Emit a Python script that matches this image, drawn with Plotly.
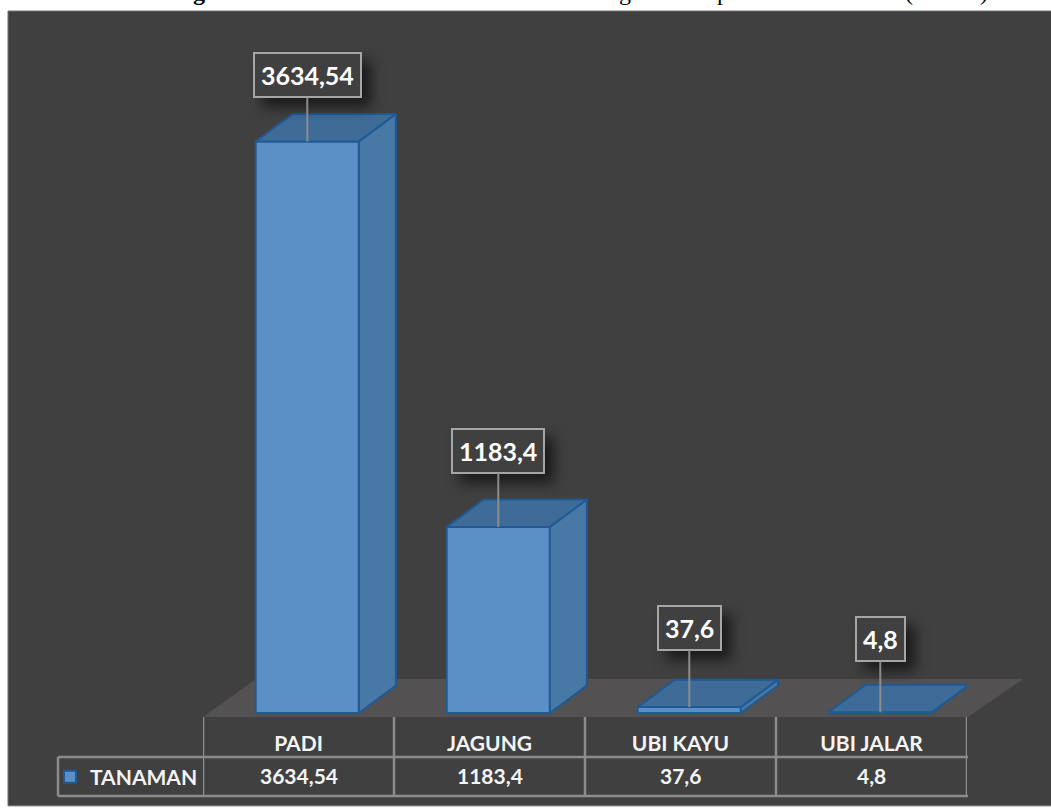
import plotly.graph_objects as go

categories = ["PADI", "JAGUNG", "UBI KAYU", "UBI JALAR"]
values = [3634.54, 1183.4, 37.6, 4.8]
value_labels = ["3634,54", "1183,4", "37,6", "4,8"]
series_name = "TANAMAN"

W, H = 1051, 808
ML, MR, MT, MB = 203, 84, 20, 90
PX_PER_CAT = (W - ML - MR) / 4
PX_PER_VAL = 0.1575
Y_LOW = -4 / PX_PER_VAL
Y_HIGH = (714 - MT) / PX_PER_VAL
DX = 37 / PX_PER_CAT      # oblique depth, category units
DY = 27.5 / PX_PER_VAL    # oblique depth, value units
SHIFT = 0.046
BAR_W = 0.54
LIFT = [-66, -76, -79, -73]

BG = "#404040"; FLOOR = "#535151"; FRONT = "#5a90c6"; SIDE = "#4878a6"
TOP = "#3e6b98"; EDGE = "#1f5a94"; GRID = "#8c8c8c"; TEXT = "#f4f4f4"
FONT = "Lato"


def px(x):
    return (x - ML) / (W - ML - MR)


def py(y):
    return (H - MB - y) / (H - MT - MB)


fig = go.Figure()
fig.add_bar(x=[i + SHIFT for i in range(4)], y=values, width=BAR_W, name=series_name,
            marker=dict(color=FRONT, line=dict(color=EDGE, width=2)), showlegend=True)

for i, v in enumerate(values):
    l = i + SHIFT - BAR_W / 2
    r = i + SHIFT + BAR_W / 2
    fig.add_scatter(x=[r, r + DX, r + DX, r, r], y=[0, DY, v + DY, v, 0], mode="lines", fill="toself",
                    fillcolor=SIDE, line=dict(color=EDGE, width=2), showlegend=False, hoverinfo="skip",
                    cliponaxis=False)
    fig.add_scatter(x=[l, r, r + DX, l + DX, l], y=[v, v, v + DY, v + DY, v], mode="lines", fill="toself",
                    fillcolor=TOP, line=dict(color=EDGE, width=2), showlegend=False, hoverinfo="skip",
                    cliponaxis=False)

shapes = [
    dict(type="rect", xref="paper", yref="paper", x0=px(8), x1=px(1052), y0=py(807), y1=py(11),
         fillcolor=BG, line=dict(color="#6e6e6e", width=1), layer="below"),
    dict(type="path", xref="paper", yref="paper", layer="below", fillcolor=FLOOR, line=dict(width=0),
         path=f"M {px(203)} {py(718)} L {px(968)} {py(718)} L {px(1023)} {py(680)} L {px(256)} {py(680)} Z"),
]
line = dict(color=GRID, width=2.5)
for e in [-0.5, 0.5, 1.5, 2.5, 3.5]:
    shapes.append(dict(type="line", xref="x", yref="paper", x0=e, x1=e, y0=py(797), y1=py(718), line=line))
shapes.append(dict(type="line", xref="paper", yref="paper", x0=px(58), x1=px(968), y0=py(758), y1=py(758), line=line))
shapes.append(dict(type="line", xref="paper", yref="paper", x0=px(58), x1=px(968), y0=py(797), y1=py(797), line=line))
shapes.append(dict(type="line", xref="paper", yref="paper", x0=px(58), x1=px(58), y0=py(797), y1=py(758), line=line))

annotations = []
for i, (v, lab) in enumerate(zip(values, value_labels)):
    annotations.append(dict(x=i + SHIFT, y=v, xref="x", yref="y", text=f"<b>{lab}</b>", showarrow=True,
                            arrowhead=0, arrowcolor=GRID, arrowwidth=2, ax=0, ay=LIFT[i],
                            bgcolor=BG, bordercolor="#a6a6a6", borderwidth=2, borderpad=6,
                            font=dict(family=FONT, size=25, color="#ffffff")))
    annotations.append(dict(x=i, y=py(777), xref="x", yref="paper", yanchor="middle", text=f"<b>{lab}</b>",
                            showarrow=False, font=dict(family=FONT, size=21, color=TEXT)))

# Descender tails of the caption cut off by the image's top edge
for ch, xp, bold in [("g", 191, True), ("g", 625, False), ("p", 731, False), ("(", 915, False), (")", 990, False)]:
    annotations.append(dict(x=px(xp), y=py(-8), xref="paper", yref="paper", yanchor="middle", showarrow=False,
                            text=f"<b>{ch}</b>" if bold else ch,
                            font=dict(family="Liberation Serif", size=24, color="#000000")))

fig.update_layout(
    width=W, height=H, margin=dict(l=ML, r=MR, t=MT, b=MB, pad=0),
    paper_bgcolor="#ffffff", plot_bgcolor="rgba(0,0,0,0)",
    barmode="overlay", shapes=shapes, annotations=annotations,
    legend=dict(x=px(50), y=py(777), xanchor="left", yanchor="middle", bgcolor="rgba(0,0,0,0)",
                font=dict(family=FONT, size=21, color=TEXT, weight="bold"), itemclick=False, itemdoubleclick=False),
    xaxis=dict(range=[-0.5, 3.5], tickmode="array", tickvals=list(range(4)), ticktext=[f"<b>{c}</b>" for c in categories],
               ticks="outside", ticklen=8, tickcolor="rgba(0,0,0,0)", showgrid=False, zeroline=False, showline=False,
               tickfont=dict(family=FONT, size=21, color=TEXT)),
    yaxis=dict(range=[Y_LOW, Y_HIGH], visible=False),
)

post = """
document.body.style.margin='0';document.body.style.overflow='hidden';
var s=document.createElement('style');
s.textContent='.annotation rect.bg{filter:drop-shadow(9px 9px 7px rgba(0,0,0,.6));}';
document.head.appendChild(s);
"""
fig.write_html("out.html", post_script=post, config={"displayModeBar": False})
